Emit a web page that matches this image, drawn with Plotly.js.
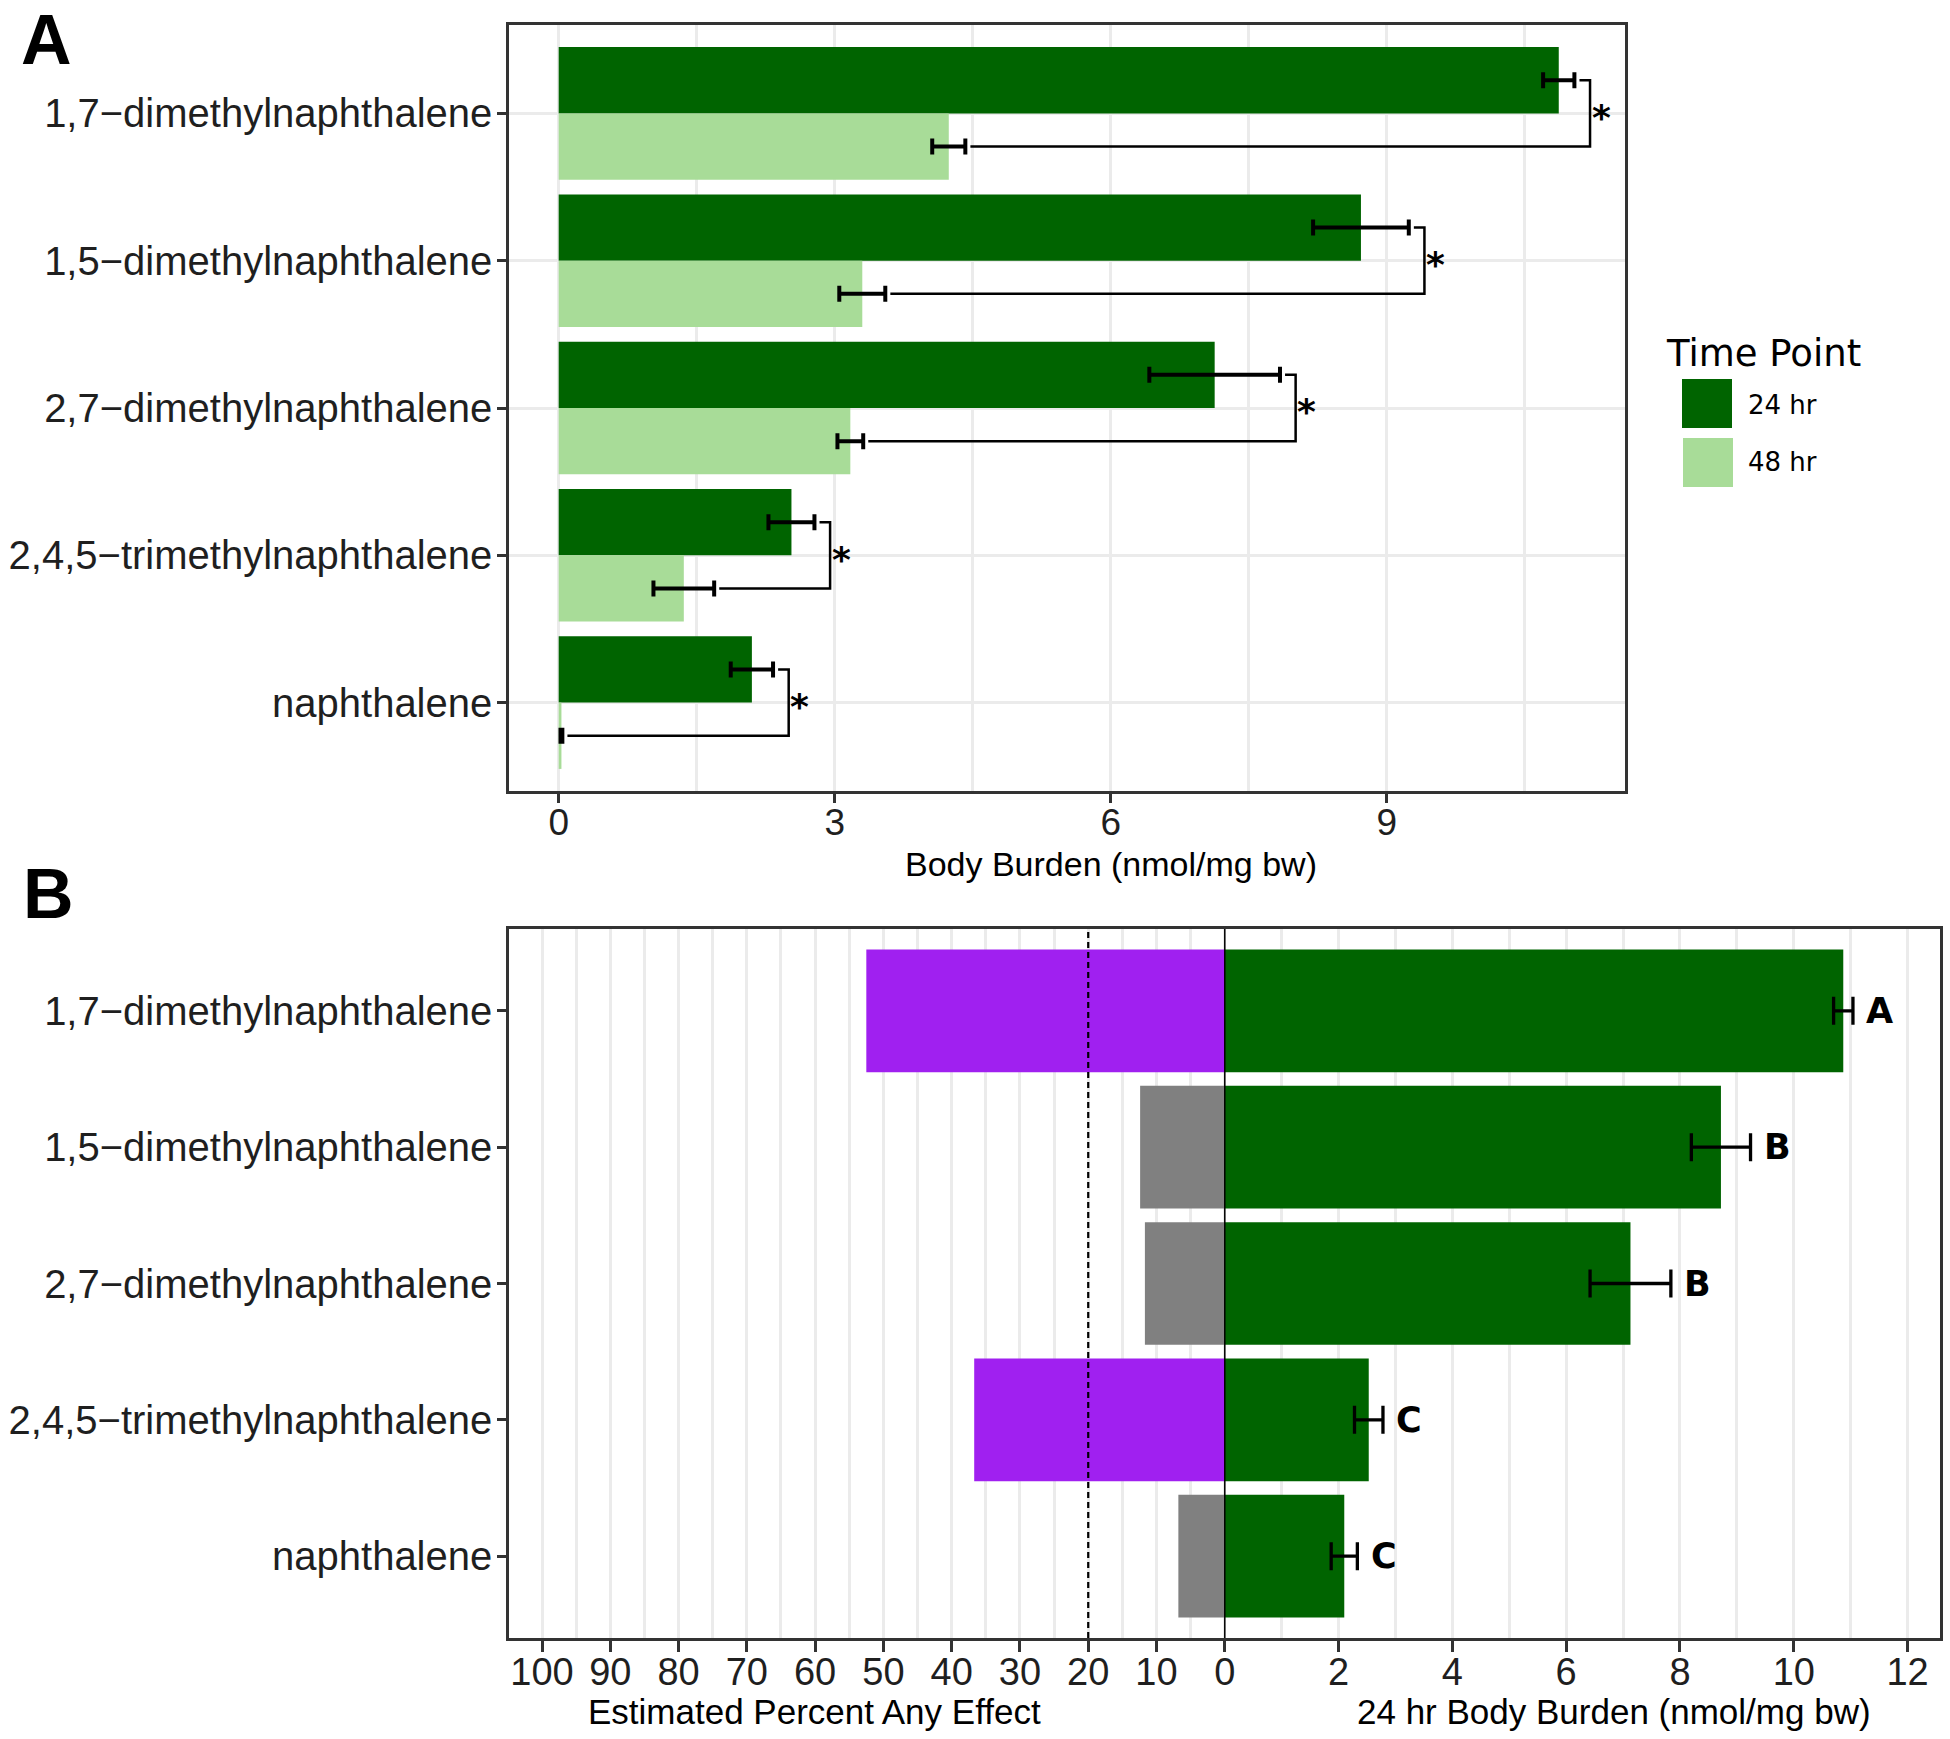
<!DOCTYPE html>
<html>
<head>
<meta charset="utf-8">
<script src="https://cdn.plot.ly/plotly-3.0.1.min.js"></script>
<style>
html, body { margin: 0; padding: 0; background: #ffffff; }
#chart { width: 1950px; height: 1739px; }
</style>
</head>
<body>
<div id="chart"></div>
<script>
// ---------------- data ----------------
const compounds = [
  "1,7\u2212dimethylnaphthalene",
  "1,5\u2212dimethylnaphthalene",
  "2,7\u2212dimethylnaphthalene",
  "2,4,5\u2212trimethylnaphthalene",
  "naphthalene"
];
const timePoints = ["24 hr", "48 hr"];
const burden24 = [10.87, 8.72, 7.13, 2.53, 2.10];   // nmol/mg bw, 24 hr
const se24     = [0.17, 0.52, 0.71, 0.25, 0.23];
const burden48 = [4.24, 3.30, 3.17, 1.36, 0.03];    // nmol/mg bw, 48 hr
const se48     = [0.18, 0.25, 0.14, 0.33, 0.01];
const sigMarks = ["*", "*", "*", "*", "*"];          // 24 hr vs 48 hr
const pctEffect = [52.5, 12.4, 11.7, 36.7, 6.8];    // estimated percent any effect
const groupLetters = ["A", "B", "B", "C", "C"];
const effectThreshold = 20;                          // dashed reference line (%)
const ticksA = [0, 3, 6, 9];
const pctTicks = [100, 90, 80, 70, 60, 50, 40, 30, 20, 10, 0];
const burdenTicksB = [2, 4, 6, 8, 10, 12];

// ---------------- styling ----------------
const DARK = "#006400", LIGHT = "#A8DC98", PURPLE = "#A020F0", GREY = "#808080";
const GRID = "#EBEBEB", AXIS = "#333333", TXT = "#1f1f1f";
const SANS = "Liberation Sans, Arial, sans-serif";
const VERD = "DejaVu Sans, Verdana, sans-serif";
const W = 1950, H = 1739;
const px = v => v / W, py = v => 1 - v / H;

const n = compounds.length;
const yPos = compounds.map((_, i) => n - 1 - i);   // first compound on top
const pctScale = 12 / 100;                          // 100 % spans the 12-unit burden axis

// ---------------- panel A ----------------
const barA24 = {
  type: "bar", orientation: "h", name: timePoints[0], showlegend: false,
  x: burden24, y: yPos, width: 0.45, offset: 0,
  marker: { color: DARK, line: { width: 0 } },
  error_x: { type: "data", array: se24, color: "#000", thickness: 4, width: 8 },
  xaxis: "x", yaxis: "y", hoverinfo: "x"
};
const barA48 = {
  type: "bar", orientation: "h", name: timePoints[1], showlegend: false,
  x: burden48, y: yPos, width: 0.45, offset: -0.45,
  marker: { color: LIGHT, line: { width: 0 } },
  error_x: { type: "data", array: se48, color: "#000", thickness: 4, width: 8 },
  xaxis: "x", yaxis: "y", hoverinfo: "x"
};
// significance brackets joining the two time points
const gapA = 0.055, reachA = 0.17;
const brX = [], brY = [], bracketPos = [];
compounds.forEach((c, i) => {
  const top = burden24[i] + se24[i];
  const bot = burden48[i] + se48[i];
  const bx = top + reachA;
  bracketPos.push(bx);
  brX.push(top + gapA, bx, bx, bot + gapA, null);
  brY.push(yPos[i] + 0.225, yPos[i] + 0.225, yPos[i] - 0.225, yPos[i] - 0.225, null);
});
const brackets = {
  type: "scatter", mode: "lines", x: brX, y: brY, showlegend: false,
  line: { color: "#000", width: 2.5 }, xaxis: "x", yaxis: "y", hoverinfo: "skip"
};

// ---------------- panel B ----------------
const effectBars = {
  type: "bar", orientation: "h", name: "Estimated Percent Any Effect", showlegend: false,
  x: pctEffect.map(p => -p * pctScale), y: yPos, width: 0.9, offset: -0.45,
  marker: { color: pctEffect.map(p => p > effectThreshold ? PURPLE : GREY), line: { width: 0 } },
  text: pctEffect.map(p => p + "%"), hoverinfo: "text", textposition: "none",
  xaxis: "x2", yaxis: "y2"
};
const burdenBarsB = {
  type: "bar", orientation: "h", name: "24 hr Body Burden", showlegend: false,
  x: burden24, y: yPos, width: 0.9, offset: -0.45,
  marker: { color: DARK, line: { width: 0 } },
  error_x: { type: "data", array: se24, color: "#000", thickness: 3.3, width: 14 },
  xaxis: "x2", yaxis: "y2", hoverinfo: "x"
};

// axis ticks / grids for panel B
const tickValsB = pctTicks.map(p => -p * pctScale).concat(burdenTicksB);
const tickTextB = pctTicks.map(String).concat(burdenTicksB.map(String));
const minorB = [];
for (let p = 95; p > 0; p -= 10) minorB.push(-p * pctScale);
for (let b = 1; b < 12; b += 2) minorB.push(b);

// ---------------- annotations ----------------
const annotations = [];
compounds.forEach((c, i) => {
  annotations.push({
    xref: "x", yref: "y", x: bracketPos[i] + 0.12, y: yPos[i], yshift: -4,
    text: "<b>" + sigMarks[i] + "</b>", showarrow: false, xanchor: "center", yanchor: "middle",
    font: { family: VERD, size: 36, color: "#000" }
  });
  annotations.push({
    xref: "x2", yref: "y2", x: burden24[i] + se24[i] + 0.2, y: yPos[i],
    text: "<b>" + groupLetters[i] + "</b>", showarrow: false, xanchor: "left", yanchor: "middle",
    font: { family: VERD, size: 35, color: "#000" }
  });
});
// panel tags
annotations.push({ xref: "paper", yref: "paper", x: px(46), y: py(40), text: "<b>A</b>",
  showarrow: false, xanchor: "center", yanchor: "middle", font: { family: SANS, size: 70, color: "#000" } });
annotations.push({ xref: "paper", yref: "paper", x: px(48), y: py(894), text: "<b>B</b>",
  showarrow: false, xanchor: "center", yanchor: "middle", font: { family: SANS, size: 70, color: "#000" } });
// axis titles
annotations.push({ xref: "paper", yref: "paper", x: px(1111), y: py(864), text: "Body Burden (nmol/mg bw)",
  showarrow: false, xanchor: "center", yanchor: "middle", font: { family: SANS, size: 34, color: "#000" } });
annotations.push({ xref: "paper", yref: "paper", x: px(814), y: py(1711), text: "Estimated Percent Any Effect",
  showarrow: false, xanchor: "center", yanchor: "middle", font: { family: SANS, size: 35, color: "#000" } });
annotations.push({ xref: "paper", yref: "paper", x: px(1614), y: py(1711), text: "24 hr Body Burden (nmol/mg bw)",
  showarrow: false, xanchor: "center", yanchor: "middle", font: { family: SANS, size: 35, color: "#000" } });
// legend (panel A)
annotations.push({ xref: "paper", yref: "paper", x: px(1664), y: py(353), text: "Time Point",
  showarrow: false, xanchor: "left", yanchor: "middle", font: { family: VERD, size: 37, color: "#000" } });
annotations.push({ xref: "paper", yref: "paper", x: px(1746), y: py(405), text: timePoints[0],
  showarrow: false, xanchor: "left", yanchor: "middle", font: { family: VERD, size: 26, color: "#000" } });
annotations.push({ xref: "paper", yref: "paper", x: px(1746), y: py(462), text: timePoints[1],
  showarrow: false, xanchor: "left", yanchor: "middle", font: { family: VERD, size: 26, color: "#000" } });

const shapes = [
  // legend keys
  { type: "rect", xref: "paper", yref: "paper", x0: px(1682), x1: px(1732), y0: py(379), y1: py(428),
    fillcolor: DARK, line: { width: 0 } },
  { type: "rect", xref: "paper", yref: "paper", x0: px(1683), x1: px(1733), y0: py(438), y1: py(487),
    fillcolor: LIGHT, line: { width: 0 } },
  // panel B zero line and threshold line
  { type: "line", xref: "x2", yref: "y2 domain", x0: 0, x1: 0, y0: 0, y1: 1,
    line: { color: "#000", width: 1.5 }, layer: "above" },
  { type: "line", xref: "x2", yref: "y2 domain", x0: -effectThreshold * pctScale, x1: -effectThreshold * pctScale,
    y0: 0, y1: 1, line: { color: "#000", width: 2.2, dash: "6px,4px" }, layer: "above" }
];

const axisCommon = {
  showline: true, mirror: true, linecolor: AXIS, linewidth: 2.5,
  ticks: "outside", tickcolor: AXIS, tickwidth: 2.5, zeroline: false, fixedrange: true
};

const layout = {
  width: W, height: H, margin: { l: 0, r: 0, t: 0, b: 0 },
  paper_bgcolor: "#fff", plot_bgcolor: "#fff",
  barmode: "overlay", showlegend: false, hovermode: "closest",
  xaxis: Object.assign({}, axisCommon, {
    domain: [px(509), px(1625)], range: [-0.54, 11.59], anchor: "y",
    tickmode: "array", tickvals: ticksA, ticktext: ticksA.map(String),
    ticklen: 9, ticklabelstandoff: -12, showgrid: true, gridcolor: GRID, gridwidth: 2.5,
    minor: { tickmode: "linear", tick0: 1.5, dtick: 3, showgrid: true, gridcolor: GRID, gridwidth: 2.5, ticks: "" },
    tickfont: { family: SANS, size: 37, color: TXT }
  }),
  yaxis: Object.assign({}, axisCommon, {
    domain: [py(791), py(25)], range: [-0.6, 4.6], anchor: "x",
    tickmode: "array", tickvals: yPos, ticktext: compounds,
    ticklen: 9, ticklabelstandoff: -3, showgrid: true, gridcolor: GRID, gridwidth: 2.5,
    tickfont: { family: SANS, size: 40, color: TXT }
  }),
  xaxis2: Object.assign({}, axisCommon, {
    domain: [px(509), px(1940)], range: [-12.58, 12.57], anchor: "y2",
    tickmode: "array", tickvals: tickValsB, ticktext: tickTextB,
    ticklen: 11, ticklabelstandoff: -12, showgrid: true, gridcolor: GRID, gridwidth: 2.5,
    minor: { tickmode: "array", tickvals: minorB, showgrid: true, gridcolor: GRID, gridwidth: 2.5, ticks: "" },
    tickfont: { family: SANS, size: 38, color: TXT }
  }),
  yaxis2: Object.assign({}, axisCommon, {
    domain: [py(1638), py(929)], range: [-0.6, 4.6], anchor: "x2",
    tickmode: "array", tickvals: yPos, ticktext: compounds,
    ticklen: 9, ticklabelstandoff: -3, showgrid: false,
    tickfont: { family: SANS, size: 40, color: TXT }
  }),
  annotations: annotations,
  shapes: shapes
};

Plotly.newPlot("chart", [barA24, barA48, brackets, effectBars, burdenBarsB], layout,
  { displayModeBar: false, staticPlot: false, responsive: false });
</script>
</body>
</html>
